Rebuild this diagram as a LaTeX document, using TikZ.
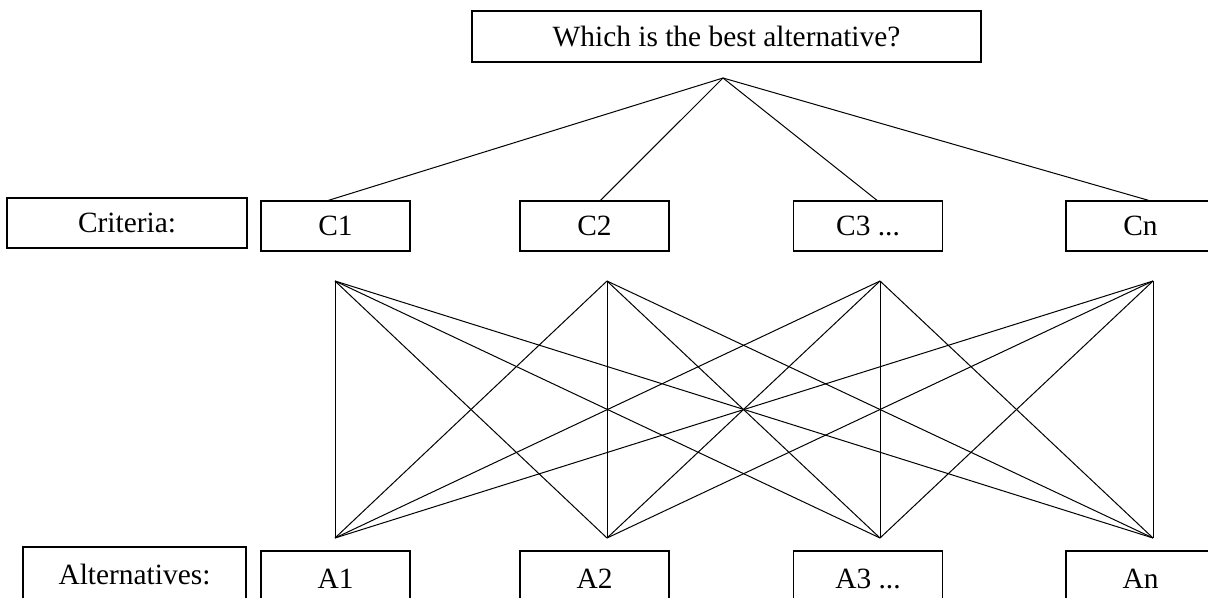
\documentclass[tikz,border=0pt]{standalone}
\usepackage{fontspec}
\setmainfont{Liberation Serif}
\usetikzlibrary{positioning}
\tikzset{
    font=\fontsize{14.7}{17}\selectfont,
    % Boxes
    box/.style={rectangle, draw, line width=0.65pt, inner sep=0pt, align=center,
                minimum height=25pt},
    critbox/.style={box, minimum width=74.5pt},
    altbox/.style={box, minimum width=74.5pt, minimum height=28pt},
    % Lines
    link/.style={line width=0.5pt}
}

\begin{document}
\begin{tikzpicture}[x=0.5pt, y=-0.5pt]
\useasboundingbox (0,0) rectangle (1208,598);

% goal
\node[box, minimum width=254.5pt, minimum height=25.5pt] (goal) at (726.5,36.5) {Which is the best alternative?};
\coordinate (apex) at (723,78);

% criteria row
\node[box, minimum width=120pt] (crit) at (127,223) {Criteria:};
\node[critbox] (c1) at (335.5,226) {C1};
\node[critbox] (c2) at (594.5,226) {C2};
\node[critbox] (c3) at (868,226) {C3 ...};
\node[critbox] (cn) at (1140.5,226) {Cn};

% alternatives row
\node[box, minimum width=111.5pt, minimum height=28pt] (alt) at (134.5,575) {Alternatives:};
\node[altbox] (a1) at (335.5,579) {A1};
\node[altbox] (a2) at (594.5,579) {A2};
\node[altbox] (a3) at (868,579) {A3 ...};
\node[altbox] (an) at (1140.5,579) {An};

% hubs for the criteria / alternatives links
\foreach \i/\x in {1/335,2/607,3/880,4/1153} {
    \coordinate (t\i) at (\x,281);
    \coordinate (b\i) at (\x,538);
}

\draw[link] (apex) -- ([xshift=-3.5pt]c1.north);
\draw[link] (apex) -- ([xshift=3pt]c2.north);
\draw[link] (apex) -- ([xshift=4.5pt]c3.north);
\draw[link] (apex) -- ([xshift=4pt]cn.north);

\foreach \i in {1,...,4} {
    \foreach \j in {1,...,4} {
        \draw[link] (t\i) -- (b\j);
    }
}

\end{tikzpicture}
\end{document}
